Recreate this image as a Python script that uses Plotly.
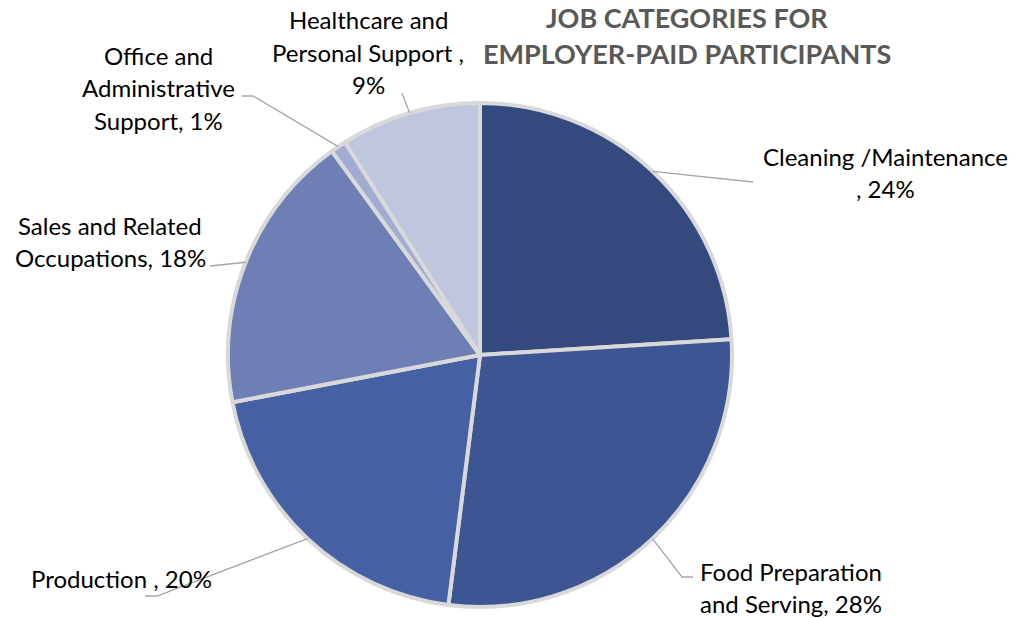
import math
import plotly.graph_objects as go

# Job categories, clockwise from 12 o'clock
categories = [
    "Cleaning /Maintenance",
    "Food Preparation and Serving",
    "Production",
    "Sales and Related Occupations",
    "Office and Administrative Support",
    "Healthcare and Personal Support",
]
shares = [24, 28, 20, 18, 1, 9]

# Label text lines as drawn beside each slice
label_lines = [
    ["Cleaning /Maintenance", ", 24%"],
    ["Food Preparation", "and Serving, 28%"],
    ["Production , 20%"],
    ["Sales and Related", "Occupations, 18%"],
    ["Office and", "Administrative", "Support, 1%"],
    ["Healthcare and", "Personal Support ,", "9%"],
]

title_lines = ["JOB CATEGORIES FOR", "EMPLOYER-PAID PARTICIPANTS"]

colors = ["#34497D", "#3D5592", "#4561A3", "#6E7FB5", "#A2ACD2", "#C0C6DE"]

W, H = 1015, 618
CX, CY, R = 480, 355, 252  # pie centre and radius in pixels

# Label placement (pixel centres of first line) and leader-line bends
label_pos = [(885, 156), (791, 571), (121, 578), (110, 225), (158, 55), (368, 20)]
leader_pts = [
    [(753, 182)],
    [(682, 577), (693, 577)],
    [(157, 596), (145, 596)],
    [(210, 266)],
    [(253, 96), (242, 96)],
    [(402, 93)],
]
LINE_GAP = 32.5


def px(x, y):
    return x / W, 1 - y / H


fig = go.Figure(
    go.Pie(
        labels=categories,
        values=shares,
        sort=False,
        direction="clockwise",
        rotation=0,
        textinfo="none",
        hoverinfo="label+percent",
        marker=dict(colors=colors, line=dict(color="#D9D9D9", width=4)),
        domain=dict(x=[(CX - R) / W, (CX + R) / W], y=[(H - CY - R) / H, (H - CY + R) / H]),
        showlegend=False,
    )
)

shapes = []
annotations = []
total = sum(shares)
acc = 0
for i, v in enumerate(shares):
    mid = (acc + v / 2) / total * 2 * math.pi
    acc += v
    ax = CX + R * math.sin(mid)
    ay = CY - R * math.cos(mid)
    pts = [(ax, ay)] + leader_pts[i]
    path = "M " + " L ".join(f"{px(x, y)[0]:.5f},{px(x, y)[1]:.5f}" for x, y in pts)
    shapes.append(dict(type="path", xref="paper", yref="paper", path=path,
                       line=dict(color="#A6A6A6", width=1.3)))
    lx, ly = label_pos[i]
    for j, line in enumerate(label_lines[i]):
        x, y = px(lx, ly + j * LINE_GAP)
        annotations.append(dict(text=line, x=x, y=y, xref="paper", yref="paper",
                                xanchor="center", yanchor="middle", showarrow=False,
                                font=dict(family="Lato", size=24, color="#000000")))

for j, line in enumerate(title_lines):
    x, y = px(687, 18 + j * 36)
    annotations.append(dict(text=f"<b>{line}</b>", x=x, y=y, xref="paper", yref="paper",
                            xanchor="center", yanchor="middle", showarrow=False,
                            font=dict(family="Lato", size=27, color="#595959")))

fig.update_layout(
    width=W, height=H,
    margin=dict(l=0, r=0, t=0, b=0),
    paper_bgcolor="white", plot_bgcolor="white",
    shapes=shapes, annotations=annotations,
)

fig.write_html("out.html")
